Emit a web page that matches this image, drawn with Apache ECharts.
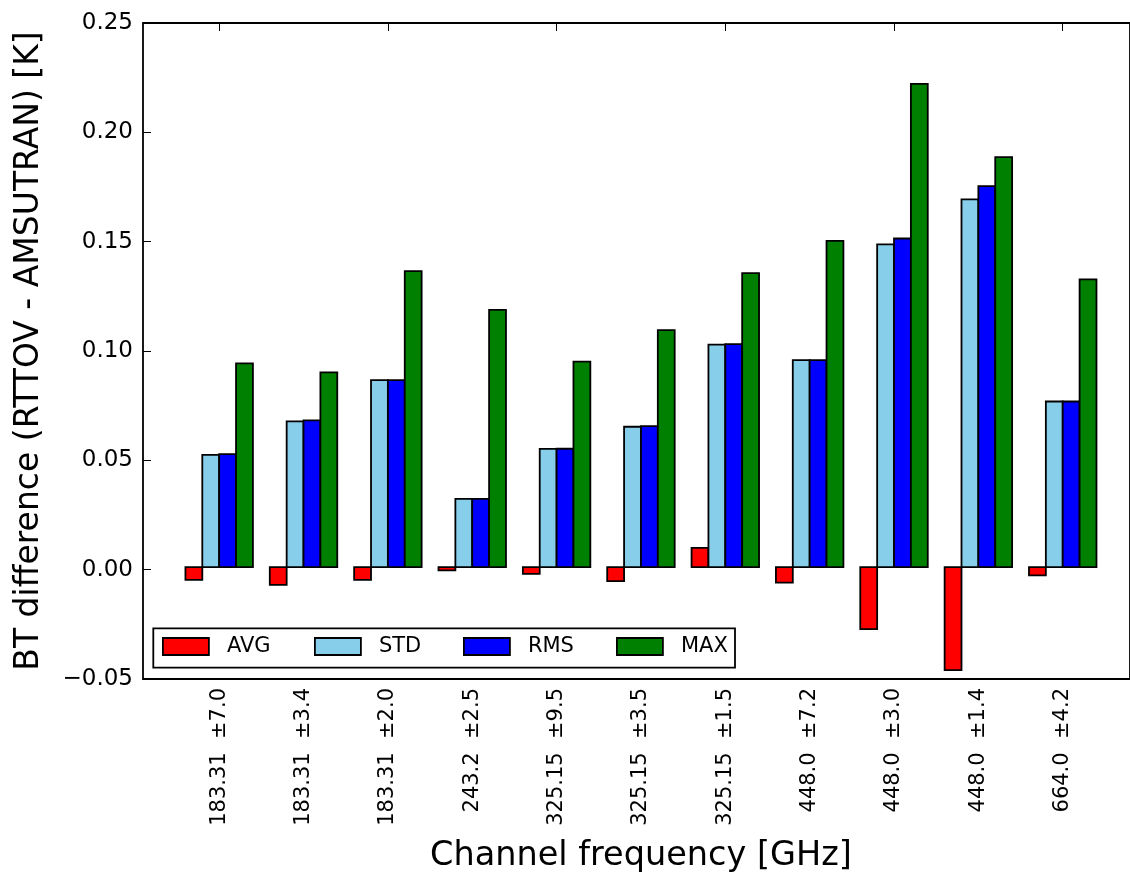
<!DOCTYPE html>
<html><head><meta charset="utf-8">
<script src="https://cdn.jsdelivr.net/npm/echarts@6/dist/echarts.min.js"></script>
<style>html,body{margin:0;padding:0;background:#fff}#c{width:1130px;height:878px}</style>
</head><body><div id="c"></div>
<script>
const categories = ['183.31  \u00b17.0','183.31  \u00b13.4','183.31  \u00b12.0','243.2  \u00b12.5','325.15  \u00b19.5','325.15  \u00b13.5','325.15  \u00b11.5','448.0  \u00b17.2','448.0  \u00b13.0','448.0  \u00b11.4','664.0  \u00b14.2'];
const avgValues = [-0.0058, -0.0081, -0.0058, -0.0015, -0.0031, -0.0064, 0.0089, -0.0071, -0.0285, -0.0473, -0.0038];
const stdValues = [0.0516, 0.0670, 0.0859, 0.0314, 0.0543, 0.0645, 0.1022, 0.0951, 0.1483, 0.1690, 0.0761];
const rmsValues = [0.0519, 0.0674, 0.0859, 0.0314, 0.0544, 0.0648, 0.1025, 0.0951, 0.1510, 0.1751, 0.0761];
const maxValues = [0.0936, 0.0895, 0.1360, 0.1182, 0.0944, 0.1089, 0.1351, 0.1499, 0.2220, 0.1884, 0.1322];
const yTicks = [-0.05, 0.25, 0.05]; // min, max, interval

const FONT = 'DejaVu Sans';
const chart = echarts.init(document.getElementById('c'), null, {renderer: 'canvas'});
const seriesDefs = [
  {name: 'AVG', data: avgValues, color: '#ff0000'},
  {name: 'STD', data: stdValues, color: '#87ceeb'},
  {name: 'RMS', data: rmsValues, color: '#0000ff'},
  {name: 'MAX', data: maxValues, color: '#008000'}
];
const legendLefts = [162, 314, 463, 616];
const tickStyle = {show: true, inside: true, length: 8, lineStyle: {color: '#000', width: 1}};
const BAR_FRAC = 0.2; // each bar's share of a category band

function makeRender(k, color) {
  return function (params, api) {
    const ci = api.value(0), v = api.value(1);
    const top = api.coord([ci, v]);
    const base = api.coord([ci, 0]);
    const band = api.size([1, 0])[0];
    const w = band * BAR_FRAC;
    const x0 = top[0] - band * BAR_FRAC * 2 + k * w;
    return {
      type: 'rect',
      shape: {x: x0, y: Math.min(top[1], base[1]), width: w, height: Math.abs(base[1] - top[1])},
      style: {fill: color, stroke: '#000', lineWidth: 1.8}
    };
  };
}

const option = {
  animation: false,
  backgroundColor: '#fff',
  grid: [
    {left: 143, top: 23, width: 990, height: 656, show: true, borderColor: '#000', borderWidth: 1.8, backgroundColor: 'transparent'},
    {left: 177, top: 23, width: 927.9, height: 656}
  ],
  xAxis: [
    {type: 'value', gridIndex: 0, show: false, min: 0, max: 1},
    {type: 'category', gridIndex: 1, position: 'bottom', data: categories,
     axisLine: {show: false}, axisTick: Object.assign({alignWithLabel: true}, tickStyle),
     axisLabel: {rotate: 90, fontSize: 21, fontFamily: FONT, color: '#000', margin: 12, interval: 0},
     name: 'Channel frequency [GHz]', nameLocation: 'middle', nameGap: 163,
     nameTextStyle: {fontSize: 33.5, fontFamily: FONT, color: '#000'}},
    {type: 'category', gridIndex: 1, position: 'top', data: categories,
     axisLine: {show: false}, axisTick: Object.assign({alignWithLabel: true}, tickStyle),
     axisLabel: {show: false}}
  ],
  yAxis: [
    {type: 'value', gridIndex: 0, min: yTicks[0], max: yTicks[1], interval: yTicks[2],
     axisLine: {show: false}, axisTick: tickStyle, splitLine: {show: false},
     axisLabel: {fontSize: 23, fontFamily: FONT, color: '#000', margin: 10,
       formatter: v => (v < -1e-9 ? '\u2212' : '') + Math.abs(v).toFixed(2)},
     name: 'BT difference (RTTOV - AMSUTRAN) [K]', nameLocation: 'middle', nameGap: 97, nameRotate: 90,
     nameTextStyle: {fontSize: 33, fontFamily: FONT, color: '#000'}},
    {type: 'value', gridIndex: 1, min: yTicks[0], max: yTicks[1], interval: yTicks[2], show: false}
  ],
  legend: seriesDefs.map((s, i) => ({
    data: [s.name], left: legendLefts[i], top: 636, padding: 0,
    icon: 'rect', itemWidth: 46, itemHeight: 17,
    itemStyle: {color: s.color, borderColor: '#000', borderWidth: 1.8},
    textStyle: {fontSize: 21, fontFamily: FONT, color: '#000', padding: [0, 0, 0, 13]},
    selectedMode: false
  })),
  graphic: [{type: 'rect', z: 3, shape: {x: 153.3, y: 628.3, width: 581.7, height: 39.4},
    style: {fill: '#fff', stroke: '#000', lineWidth: 1.8}}],
  series: seriesDefs.map((s, k) => ({
    name: s.name, type: 'custom', xAxisIndex: 1, yAxisIndex: 1,
    data: s.data.map((v, i) => [i, v]),
    encode: {x: 0, y: 1},
    itemStyle: {color: s.color},
    renderItem: makeRender(k, s.color)
  }))
};
chart.setOption(option);
</script></body></html>
